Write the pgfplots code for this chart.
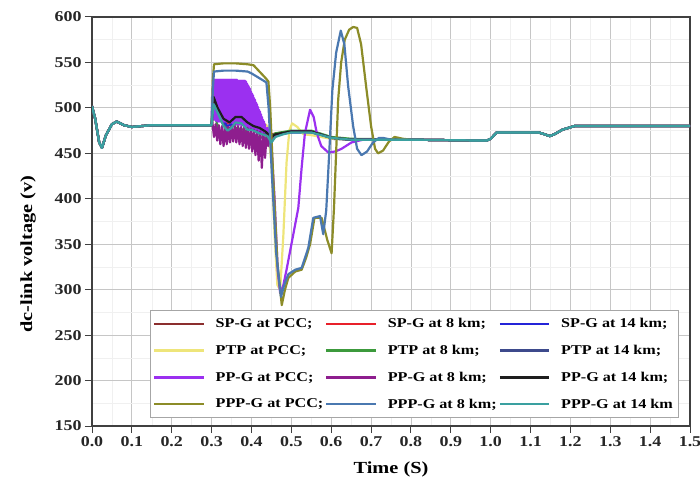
\documentclass[border=0pt]{standalone}
\usepackage{fontspec}
\setmainfont{Liberation Serif}[FakeStretch=1.2]
\usepackage{pgfplots}
\pgfplotsset{compat=1.18}

\definecolor{spgpcc}{HTML}{8B2E2E}
\definecolor{spgeight}{HTML}{E8202A}
\definecolor{spgfourteen}{HTML}{2424D8}
\definecolor{ptppcc}{HTML}{EEE57A}
\definecolor{ptpeight}{HTML}{3C9A3C}
\definecolor{ptpfourteen}{HTML}{3D4A8C}
\definecolor{ppgpcc}{HTML}{9B30F0}
\definecolor{ppgeight}{HTML}{8E1E8E}
\definecolor{ppgfourteen}{HTML}{1E1E1E}
\definecolor{pppgpcc}{HTML}{8C8C28}
\definecolor{pppgeight}{HTML}{4A78B0}
\definecolor{pppgfourteen}{HTML}{3AA0A0}

\tikzset{curve/.style={line width=2.2bp, line join=round}}

\begin{document}
\begin{tikzpicture}
\useasboundingbox (0bp,0bp) rectangle (700bp,481bp);
\begin{axis}[
    at={(92bp,55bp)}, anchor=south west,
    scale only axis, width=598bp, height=409bp,
    xmin=0, xmax=1.5, ymin=150, ymax=600,
    xtick={0,0.1,0.2,0.3,0.4,0.5,0.6,0.7,0.8,0.9,1.0,1.1,1.2,1.3,1.4,1.5},
    ytick={150,200,250,300,350,400,450,500,550,600},
    xticklabel style={/pgf/number format/.cd, fixed, fixed zerofill, precision=1},
    /pgf/number format/assume math mode=true,
    tick label style={font=\fontsize{15}{17}\selectfont\bfseries, text=black!85},
    xtick pos=left, ytick pos=left,
    tick align=outside, major tick length=7bp,
    minor tick num=1, minor tick length=0pt,
    grid=both,
    major grid style={draw=gray!45, line width=0.8bp},
    minor grid style={draw=gray!12, line width=0.5bp},
    axis line style={draw=black!75, line width=1.2bp},
    every tick/.style={draw=black!75, line width=1bp},
    xlabel={Time (S)},
    ylabel={dc-link voltage (v)},
    xlabel style={at={(axis description cs:0.5,-0.105)}, anchor=center, font=\fontsize{17}{19}\selectfont\bfseries},
    ylabel style={at={(axis description cs:-0.107,0.42)}, anchor=center, font=\fontsize{17}{19}\selectfont\bfseries},
    legend image post style={xscale=2.9},
    legend columns=3,
    legend cell align=left,
    legend style={at={(0.98,0.02)}, anchor=south east, draw=gray!70, fill=white,
        font=\fontsize{13.5}{15}\selectfont\bfseries,
        /tikz/every odd column/.append style={column sep=9bp},
        row sep=12bp, inner xsep=3bp, inner ysep=6bp},
]

% SP-G at PCC
\addplot[curve, color=spgpcc] coordinates {
(0,502) (0.008,488) (0.018,462) (0.025,456) (0.035,470) (0.05,482) (0.062,485) (0.08,481) (0.1,479) (0.15,481) (0.3,481)
(0.305,505) (0.315,498) (0.33,485) (0.35,482) (0.37,488) (0.39,483) (0.41,480) (0.43,476) (0.45,470) (0.47,472) (0.5,474) (0.55,474) (0.6,467) (0.65,465)
(0.8,465) (0.99,464) (1.0,466) (1.015,473) (1.06,473) (1.12,473) (1.135,471) (1.148,469) (1.16,471) (1.18,476) (1.21,480) (1.5,480)};
\addlegendentry{SP-G at PCC;}

% SP-G at 8 km
\addplot[curve, color=spgeight] coordinates {
(0,502) (0.008,488) (0.018,462) (0.025,456) (0.035,470) (0.05,482) (0.062,485) (0.08,481) (0.1,479) (0.15,481) (0.3,481)
(0.305,503) (0.32,492) (0.34,483) (0.36,486) (0.38,487) (0.40,480) (0.43,475) (0.45,471) (0.48,473) (0.52,474) (0.55,474) (0.6,467) (0.65,465)
(0.8,465) (0.99,464) (1.0,466) (1.015,473) (1.06,473) (1.12,473) (1.135,471) (1.148,469) (1.16,471) (1.18,476) (1.21,480) (1.5,480)};
\addlegendentry{SP-G at 8 km;}

% SP-G at 14 km
\addplot[curve, color=spgfourteen] coordinates {
(0,502) (0.008,488) (0.018,462) (0.025,456) (0.035,470) (0.05,482) (0.062,485) (0.08,481) (0.1,479) (0.15,481) (0.3,481)
(0.305,500) (0.32,490) (0.34,480) (0.36,484) (0.38,484) (0.40,478) (0.43,474) (0.45,470) (0.5,473) (0.55,473) (0.6,466) (0.65,465)
(0.8,465) (0.99,464) (1.0,466) (1.015,473) (1.06,473) (1.12,473) (1.135,471) (1.148,469) (1.16,471) (1.18,476) (1.21,480) (1.5,480)};
\addlegendentry{SP-G at 14 km;}

% PTP at PCC
\addplot[curve, color=ptppcc] coordinates {
(0,502) (0.008,488) (0.018,462) (0.025,456) (0.035,470) (0.05,482) (0.062,485) (0.08,481) (0.1,479) (0.15,481) (0.3,481)
(0.305,508) (0.32,500) (0.34,495) (0.355,497) (0.37,496) (0.385,498) (0.40,494) (0.42,487) (0.44,480) (0.45,440) (0.458,360) (0.465,305) (0.472,300)
(0.48,360) (0.488,440) (0.495,475) (0.502,483) (0.515,479) (0.53,471) (0.55,470) (0.6,466) (0.65,465)
(0.8,465) (0.99,464) (1.0,466) (1.015,473) (1.06,473) (1.12,473) (1.135,471) (1.148,469) (1.16,471) (1.18,476) (1.21,480) (1.5,480)};
\addlegendentry{PTP at PCC;}

% PTP at 8 km
\addplot[curve, color=ptpeight] coordinates {
(0,502) (0.008,488) (0.018,462) (0.025,456) (0.035,470) (0.05,482) (0.062,485) (0.08,481) (0.1,479) (0.15,481) (0.3,481)
(0.305,498) (0.315,480) (0.33,464) (0.345,468) (0.36,478) (0.38,476) (0.40,470) (0.42,468) (0.44,466) (0.46,472) (0.5,475) (0.55,475) (0.6,468) (0.65,466)
(0.8,465) (0.99,464) (1.0,466) (1.015,473) (1.06,473) (1.12,473) (1.135,471) (1.148,469) (1.16,471) (1.18,476) (1.21,480) (1.5,480)};
\addlegendentry{PTP at 8 km;}

% PTP at 14 km
\addplot[curve, color=ptpfourteen] coordinates {
(0,502) (0.008,488) (0.018,462) (0.025,456) (0.035,470) (0.05,482) (0.062,485) (0.08,481) (0.1,479) (0.15,481) (0.3,481)
(0.305,502) (0.32,488) (0.34,476) (0.36,482) (0.38,482) (0.40,476) (0.43,472) (0.45,466) (0.46,470) (0.5,474) (0.55,474) (0.6,467) (0.65,465)
(0.8,465) (0.99,464) (1.0,466) (1.015,473) (1.06,473) (1.12,473) (1.135,471) (1.148,469) (1.16,471) (1.18,476) (1.21,480) (1.5,480)};
\addlegendentry{PTP at 14 km;}

% PP-G at PCC
\addplot[curve, color=ppgpcc] coordinates {
(0,502) (0.008,488) (0.018,462) (0.025,456) (0.035,470) (0.05,482) (0.062,485) (0.08,481) (0.1,479) (0.15,481) (0.3,481)
(0.30125,512) (0.3025,490) (0.30375,525) (0.305,488) (0.30625,530) (0.3075,487) (0.30875,531) (0.31,486) (0.31125,531) (0.3125,486)
(0.31375,531) (0.315,485) (0.31625,531) (0.3175,485) (0.31875,531) (0.32,485) (0.32125,531) (0.3225,485) (0.32375,531) (0.325,485)
(0.32625,531) (0.3275,485) (0.32875,531) (0.33,485) (0.33125,531) (0.3325,485) (0.33375,531) (0.335,485) (0.33625,531) (0.3375,485)
(0.33875,531) (0.34,485) (0.34125,531) (0.3425,484) (0.34375,531) (0.345,484) (0.34625,531) (0.3475,484) (0.34875,531) (0.35,484)
(0.35125,531) (0.3525,483) (0.35375,531) (0.355,483) (0.35625,531) (0.3575,483) (0.35875,531) (0.36,483) (0.36125,531) (0.3625,482)
(0.36375,531) (0.365,482) (0.36625,530) (0.3675,482) (0.36875,530) (0.37,482) (0.37125,530) (0.3725,482) (0.37375,530) (0.375,481)
(0.37625,530) (0.3775,481) (0.37875,530) (0.38,481) (0.38125,530) (0.3825,480) (0.38375,530) (0.385,480) (0.38625,529) (0.3875,480)
(0.38875,527) (0.39,479) (0.39125,525) (0.3925,479) (0.39375,523) (0.395,478) (0.39625,521) (0.3975,477) (0.39875,518) (0.40,477)
(0.40125,516) (0.4025,476) (0.40375,514) (0.405,475) (0.40625,511) (0.4075,475) (0.40875,509) (0.41,474) (0.41125,506) (0.4125,473)
(0.41375,504) (0.415,472) (0.41625,501) (0.4175,472) (0.41875,498) (0.42,471) (0.42125,496) (0.4225,471) (0.42375,493) (0.425,471)
(0.42625,490) (0.4275,471) (0.42875,487) (0.43,472) (0.43125,485) (0.4325,473) (0.43375,482) (0.435,474) (0.44,478)
(0.45,460) (0.458,400) (0.466,320) (0.472,296) (0.48,305) (0.488,322) (0.505,361) (0.5175,390) (0.526,435) (0.534,472)
(0.547,498) (0.556,490) (0.564,472) (0.575,458) (0.5925,451) (0.61,452) (0.626,455) (0.651,462) (0.68,465)
(0.8,465) (0.99,464) (1.0,466) (1.015,473) (1.06,473) (1.12,473) (1.135,471) (1.148,469) (1.16,471) (1.18,476) (1.21,480) (1.5,480)};
\addlegendentry{PP-G at PCC;}

% PP-G at 8 km
\addplot[curve, color=ppgeight] coordinates {
(0,502) (0.008,488) (0.018,462) (0.025,456) (0.035,470) (0.05,482) (0.062,485) (0.08,481) (0.1,479) (0.15,481) (0.3,481)
(0.302,484) (0.306,468) (0.31,482) (0.314,464) (0.318,481) (0.322,460) (0.326,480) (0.33,458) (0.334,479) (0.338,460)
(0.342,479) (0.346,462) (0.35,480) (0.354,463) (0.358,480) (0.362,462) (0.366,480) (0.37,460) (0.374,479) (0.378,458)
(0.382,479) (0.386,456) (0.39,478) (0.394,455) (0.398,477) (0.402,452) (0.406,476) (0.41,448) (0.414,475) (0.418,442)
(0.422,474) (0.426,434) (0.43,472) (0.434,445) (0.438,470) (0.442,458) (0.446,469) (0.45,462) (0.46,470) (0.5,474)
(0.55,474) (0.6,467) (0.65,465)
(0.8,465) (0.99,464) (1.0,466) (1.015,473) (1.06,473) (1.12,473) (1.135,471) (1.148,469) (1.16,471) (1.18,476) (1.21,480) (1.5,480)};
\addlegendentry{PP-G at 8 km;}

% PP-G at 14 km
\addplot[curve, color=ppgfourteen] coordinates {
(0,502) (0.008,488) (0.018,462) (0.025,456) (0.035,470) (0.05,482) (0.062,485) (0.08,481) (0.1,479) (0.15,481) (0.3,481)
(0.305,512) (0.315,500) (0.33,488) (0.345,484) (0.36,490) (0.375,490) (0.39,484) (0.405,480) (0.42,478) (0.435,474)
(0.45,468) (0.46,471) (0.5,474) (0.55,474) (0.6,467) (0.65,465)
(0.8,465) (0.99,464) (1.0,466) (1.015,473) (1.06,473) (1.12,473) (1.135,471) (1.148,469) (1.16,471) (1.18,476) (1.21,480) (1.5,480)};
\addlegendentry{PP-G at 14 km;}

% PPP-G at PCC
\addplot[curve, color=pppgpcc] coordinates {
(0,502) (0.008,488) (0.018,462) (0.025,456) (0.035,470) (0.05,482) (0.062,485) (0.08,481) (0.1,479) (0.15,481) (0.3,481)
(0.303,530) (0.306,548) (0.33,549) (0.36,549) (0.39,548) (0.405,547) (0.42,540) (0.435,533) (0.4425,529)
(0.447,500) (0.455,420) (0.465,330) (0.476,283) (0.484,300) (0.4925,313) (0.51,320) (0.526,322) (0.537,335) (0.547,350)
(0.558,379) (0.576,379) (0.59,355) (0.601,340) (0.607,390) (0.6175,509) (0.625,550) (0.634,575) (0.645,586) (0.655,589)
(0.665,588) (0.675,570) (0.6875,524) (0.70,480) (0.71,455) (0.7175,450) (0.73,453) (0.745,463) (0.759,468) (0.78,466)
(0.8,465) (0.99,464) (1.0,466) (1.015,473) (1.06,473) (1.12,473) (1.135,471) (1.148,469) (1.16,471) (1.18,476) (1.21,480) (1.5,480)};
\addlegendentry{PPP-G at PCC;}

% PPP-G at 8 km
\addplot[curve, color=pppgeight] coordinates {
(0,502) (0.008,488) (0.018,462) (0.025,456) (0.035,470) (0.05,482) (0.062,485) (0.08,481) (0.1,479) (0.15,481) (0.3,481)
(0.303,520) (0.306,540) (0.33,541) (0.36,541) (0.39,540) (0.40,538) (0.415,534) (0.4375,528)
(0.443,500) (0.452,420) (0.462,340) (0.474,292) (0.482,305) (0.4925,317) (0.51,322) (0.526,324) (0.5425,346) (0.555,379)
(0.572,381) (0.58,361) (0.5875,387) (0.595,450) (0.603,520) (0.6125,561) (0.624,585) (0.633,570) (0.6425,524) (0.655,480)
(0.665,455) (0.676,448) (0.69,452) (0.705,462) (0.72,467) (0.73,467) (0.75,465)
(0.8,465) (0.99,464) (1.0,466) (1.015,473) (1.06,473) (1.12,473) (1.135,471) (1.148,469) (1.16,471) (1.18,476) (1.21,480) (1.5,480)};
\addlegendentry{PPP-G at 8 km;}

% PPP-G at 14 km
\addplot[curve, color=pppgfourteen] coordinates {
(0,502) (0.008,488) (0.018,462) (0.025,456) (0.035,470) (0.05,482) (0.062,485) (0.08,481) (0.1,479) (0.15,481) (0.3,481)
(0.305,504) (0.315,495) (0.33,480) (0.34,475) (0.35,478) (0.36,484) (0.375,483) (0.39,476) (0.40,476) (0.42,472)
(0.44,469) (0.45,462) (0.46,468) (0.48,471) (0.5,473) (0.55,473) (0.6,467) (0.65,465)
(0.8,465) (0.99,464) (1.0,466) (1.015,473) (1.06,473) (1.12,473) (1.135,471) (1.148,469) (1.16,471) (1.18,476) (1.21,480) (1.5,480)};
\addlegendentry{PPP-G at 14 km}

\end{axis}
\end{tikzpicture}
\end{document}
